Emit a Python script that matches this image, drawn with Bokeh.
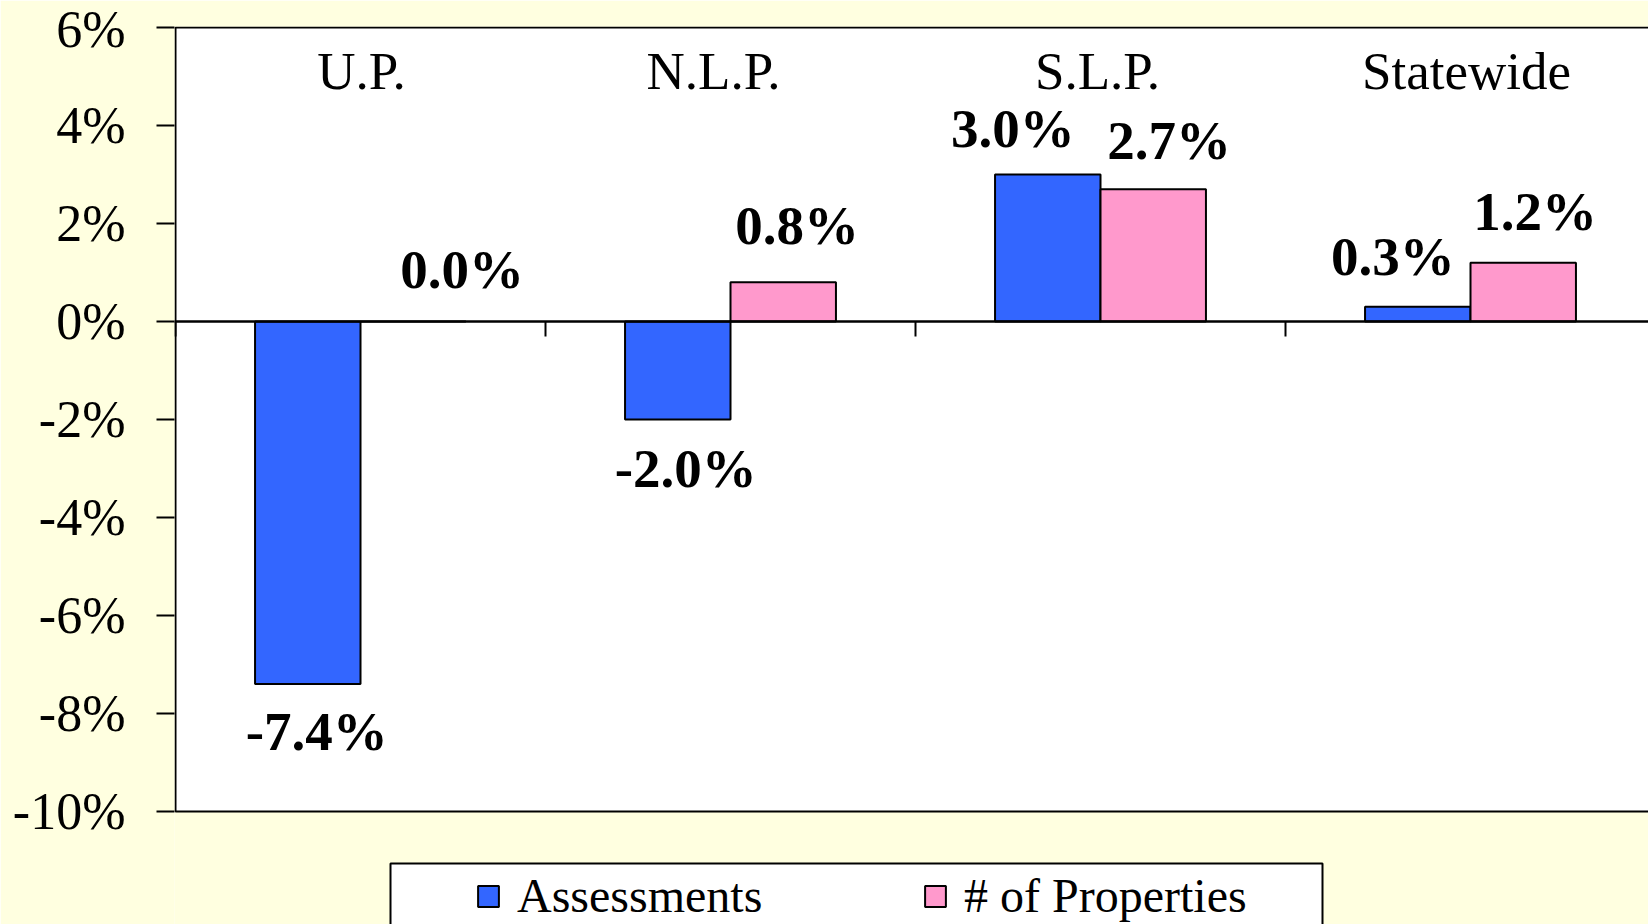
from bokeh.plotting import figure
from bokeh.models import (ColumnDataSource, Range1d, FixedTicker, PrintfTickFormatter,
                          Span, Legend, LegendItem)
from bokeh.core.properties import value
from bokeh.embed import file_html
from bokeh.resources import INLINE

# ---------------- data ----------------
categories = ["U.P.", "N.L.P.", "S.L.P.", "Statewide"]
assessments = [-7.4, -2.0, 3.0, 0.3]
properties = [0.0, 0.8, 2.7, 1.2]
series_names = ["Assessments", "# of Properties"]
y_ticks = [-10, -8, -6, -4, -2, 0, 2, 4, 6]

# ---------------- style ----------------
BG = "#FFFFE0"
BLUE = "#3366FF"
PINK = "#FF99CC"
FONT = "Liberation Serif"
BAR_W = 0.285
PX_X = 370.0   # pixels per category
PX_Y = 49.0    # pixels per percent

# manual label nudges (screen px) as in the original slide
blue_lbl_dx = [9, 8, -35, -25]
blue_lbl_dy = [47, 49, -46, -50]
pink_lbl_dx = [49, 14, 16, 12]
pink_lbl_dy = [-52, -57, -49, -51]
cat_lbl_dx = [1, -17, -3, -4]

W, H = 1648, 924
ML, MT = 174, 26
frame_w = W - ML
frame_h = H - MT
x0 = -1.0 / PX_X
y1 = max(y_ticks) + 1.0 / PX_Y

p = figure(width=W, height=H, output_backend="svg", toolbar_location=None,
           x_axis_type=None,
           x_range=Range1d(x0, x0 + frame_w / PX_X),
           y_range=Range1d(y1 - frame_h / PX_Y, y1),
           min_border_left=ML, min_border_top=MT, min_border_right=0, min_border_bottom=0)
p.border_fill_color = BG
p.background_fill_color = BG
p.outline_line_color = None
p.ygrid.grid_line_color = None

n = len(categories)
# plot area (white box with black border)
p.quad(left=[0], right=[n + 1], bottom=[min(y_ticks)], top=[max(y_ticks)],
       fill_color="white", line_color="black", line_width=2)

# y axis
yax = p.yaxis[0]
yax.ticker = FixedTicker(ticks=y_ticks)
yax.formatter = PrintfTickFormatter(format="%d%%")
yax.axis_line_color = None
yax.major_tick_out = 18
yax.major_tick_in = 0
yax.minor_tick_out = 0
yax.minor_tick_in = 0
yax.major_tick_line_width = 2
yax.major_tick_line_color = "black"
yax.major_label_standoff = 31
yax.major_label_text_font = FONT
yax.major_label_text_font_size = "52px"
yax.major_label_text_color = "black"

# bars
idx = list(range(n))
blue_x = [i + 0.5 - BAR_W / 2 for i in idx]
pink_x = [i + 0.5 + BAR_W / 2 for i in idx]
src_b = ColumnDataSource(dict(x=blue_x, top=assessments,
                              text=[f"{v:.1f}%" for v in assessments],
                              dx=blue_lbl_dx, dy=blue_lbl_dy))
src_p = ColumnDataSource(dict(x=pink_x, top=properties,
                              text=[f"{v:.1f}%" for v in properties],
                              dx=pink_lbl_dx, dy=pink_lbl_dy))
rb = p.vbar(x="x", top="top", bottom=0, width=BAR_W, source=src_b,
            fill_color=BLUE, line_color="black", line_width=2)
rp = p.vbar(x="x", top="top", bottom=0, width=BAR_W, source=src_p,
            fill_color=PINK, line_color="black", line_width=2)

# zero line and category boundary ticks
p.add_layout(Span(location=0, dimension="width", line_color="black", line_width=2.5))
p.segment(x0=idx, y0=[0] * n, x1=idx, y1=[-15 / PX_Y] * n, line_color="black", line_width=2)

# value labels
for src in (src_b, src_p):
    p.text(x="x", y="top", text="text", x_offset="dx", y_offset="dy", source=src,
           text_font=value(FONT), text_font_style="bold", text_font_size=value("55px"),
           text_align="center", text_baseline="middle", text_color="black")

# category labels
cat_src = ColumnDataSource(dict(x=[i + 0.5 for i in idx], y=[max(y_ticks)] * n,
                                text=categories, dx=cat_lbl_dx))
p.text(x="x", y="y", text="text", x_offset="dx", y_offset=43, source=cat_src,
       text_font=value(FONT), text_font_size=value("53px"),
       text_align="center", text_baseline="middle", text_color="black")

# legend box
leg_left = (390 - 175) / PX_X
leg_right = (1322 - 175) / PX_X
leg_top = max(y_ticks) - (863 - 27) / PX_Y
p.quad(left=[leg_left], right=[leg_right], top=[leg_top], bottom=[leg_top - 3],
       fill_color="white", line_color="black", line_width=2)

for r, name, vx in ((rb, series_names[0], 301), (rp, series_names[1], 748)):
    lg = Legend(items=[LegendItem(label=name, renderers=[r])], location=(vx, 1),
                border_line_color=None, background_fill_alpha=0, padding=0, margin=0,
                spacing=0, glyph_width=26, glyph_height=26, label_standoff=16,
                label_text_font=FONT, label_text_font_size="48px", label_text_color="black")
    p.add_layout(lg)

open("out.html", "w").write(file_html(p, INLINE))
